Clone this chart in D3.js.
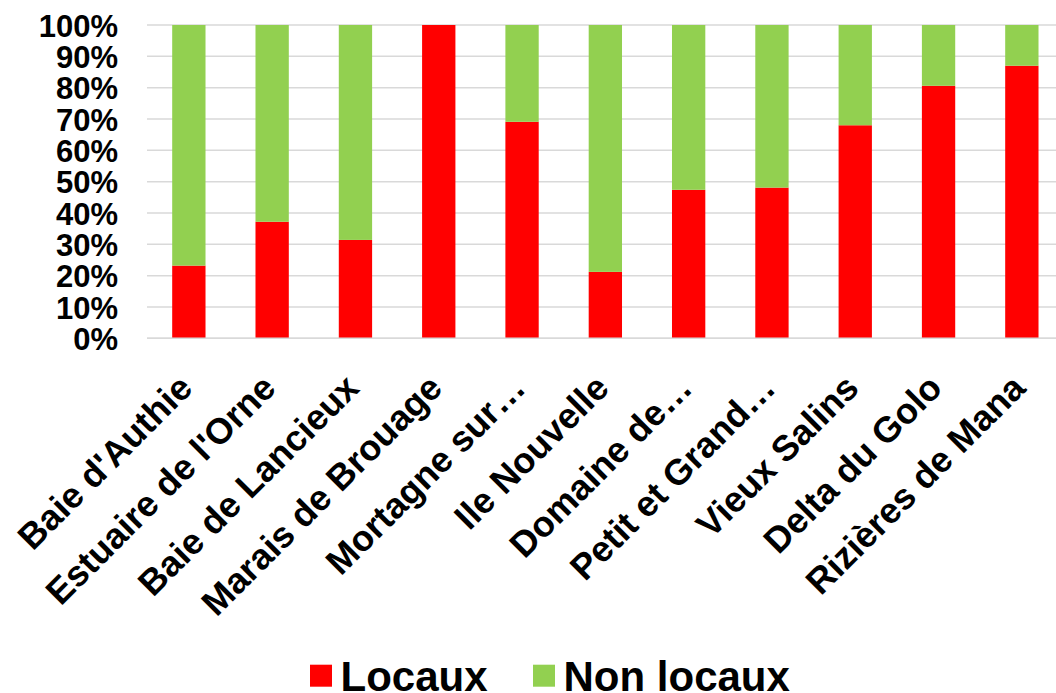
<!DOCTYPE html>
<html>
<head>
<meta charset="utf-8">
<script src="https://cdn.jsdelivr.net/npm/d3@7"></script>
<style>
  html, body { margin: 0; padding: 0; background: #fff; }
  svg { display: block; font-family: "Liberation Sans", Arial, sans-serif; font-weight: bold; }
</style>
</head>
<body>
<svg id="chart" width="1056" height="693"></svg>
<script>
const categories = ["Baie d'Authie", "Estuaire de l'Orne", "Baie de Lancieux", "Marais de Brouage", "Mortagne sur…", "Ile Nouvelle", "Domaine de…", "Petit et Grand…", "Vieux Salins", "Delta du Golo", "Rizières de Mana"];
const locaux = [23.2, 37.2, 31.4, 100, 69.1, 21.2, 47.4, 48.1, 68.0, 80.6, 87.0];
const nonLocaux = locaux.map(v => 100 - v);
const seriesNames = ["Locaux", "Non locaux"];
const seriesColors = ["#FF0000", "#92D050"];
const yTicks = [0, 10, 20, 30, 40, 50, 60, 70, 80, 90, 100];

const svg = d3.select("#chart");
const x = d3.scaleBand().domain(categories).range([147.2, 1063.5]).paddingInner(0.6).paddingOuter(0.3);
const y = d3.scaleLinear().domain([0, 100]).range([338.3, 25]);

// gridlines
svg.append("g").selectAll("line").data(yTicks).join("line")
  .attr("x1", 147).attr("x2", 1056)
  .attr("y1", d => y(d)).attr("y2", d => y(d))
  .attr("stroke", "#d9d9d9").attr("stroke-width", 1.5);

// y axis labels
const yAxis = d3.axisLeft(y).tickValues(yTicks).tickFormat(d => d + "%").tickSize(0).tickPadding(0);
const yg = svg.append("g").attr("transform", "translate(118,0)").call(yAxis);
yg.select(".domain").remove();
yg.selectAll("text").attr("font-size", 31).attr("font-family", "'Liberation Sans', Arial, sans-serif")
  .attr("font-weight", "bold").attr("fill", "#000").attr("dy", "0.36em");

// stacked bars
const rows = categories.map((c, i) => ({ cat: c, Locaux: locaux[i], "Non locaux": nonLocaux[i] }));
const stack = d3.stack().keys(seriesNames)(rows);
svg.append("g").selectAll("g").data(stack).join("g")
  .attr("fill", (d, i) => seriesColors[i])
  .selectAll("rect").data(d => d).join("rect")
  .attr("x", d => x(d.data.cat))
  .attr("width", x.bandwidth())
  .attr("y", d => y(d[1]))
  .attr("height", d => y(d[0]) - y(d[1]));

// x axis baseline
svg.append("line").attr("x1", 147).attr("x2", 1056).attr("y1", y(0)).attr("y2", y(0))
  .attr("stroke", "#d9d9d9").attr("stroke-width", 1.5);

// x labels
svg.append("g").selectAll("text").data(categories).join("text")
  .attr("transform", d => `translate(${x(d) + x.bandwidth() / 2 + 5.5},390) rotate(-45)`)
  .attr("text-anchor", "end")
  .attr("font-size", 36)
  .attr("fill", "#000")
  .text(d => d);

// legend
const legendX = [310, 533];
const lg = svg.append("g");
seriesNames.forEach((name, i) => {
  lg.append("rect").attr("x", legendX[i]).attr("y", 664.7).attr("width", 22).attr("height", 22).attr("fill", seriesColors[i]);
  lg.append("text").attr("x", legendX[i] + 30.5).attr("y", 690.5).attr("font-size", 42).attr("fill", "#000").text(name);
});
</script>
</body>
</html>
